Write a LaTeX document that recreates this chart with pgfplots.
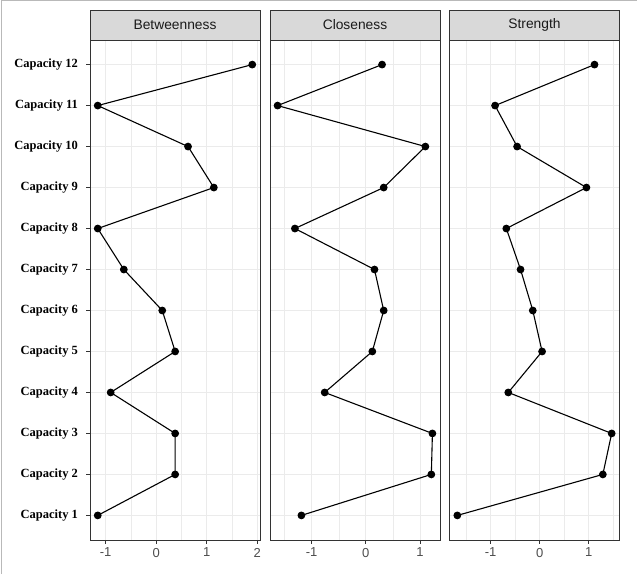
\documentclass[border=0pt]{standalone}
\usepackage{pgfplots}
\pgfplotsset{compat=1.18}
\usepackage{fontspec}
\setmainfont{Liberation Sans}
\newfontfamily\capfont{Liberation Serif}
\definecolor{g10}{HTML}{1A1A1A}
\definecolor{g20}{HTML}{333333}
\definecolor{g30}{HTML}{4D4D4D}
\definecolor{g85}{HTML}{D9D9D9}
\definecolor{g92}{HTML}{EBEBEB}
\pgfplotsset{
  facet/.style={
    scale only axis, width=170pt, height=500pt, anchor=south west,
    ymin=0.4, ymax=12.6, ytick={1,...,12},
    xmajorgrids, ymajorgrids, xminorgrids,
    major grid style={color=g92, line width=0.9pt},
    minor grid style={color=g92, line width=0.5pt},
    axis line style={g20, line width=0.7pt},
    tick style={g20, line width=0.7pt},
    tick align=outside, major tick length=3.5pt, minor tick length=0pt,
    xtick pos=bottom, ytick pos=left,
    xticklabel style={font=\fontsize{13}{15}\selectfont, text=g30, yshift=-1pt},
    yticklabel style={font=\capfont\bfseries\fontsize{12.5}{14}\selectfont, text=black, xshift=-5pt},
  },
  pts/.style={black, solid, line width=1.1pt, mark=*, mark size=3.3pt, mark options={solid, fill=black, draw=black}},
}
\tikzset{strip/.style={fill=g85, draw=g20, line width=0.7pt}}
\begin{document}
\begin{tikzpicture}
\useasboundingbox (0,0) rectangle (637pt,574pt);
\draw[gray!55, line width=1.2pt] (1.5pt,0) -- (1.5pt,573.4pt) -- (637pt,573.4pt);
% Betweenness
\begin{axis}[facet, name=p1, at={(90pt,34pt)},
  xmin=-1.309, xmax=2.053, xtick={-1,0,1,2}, xticklabels={-1,0,1,2},
  minor xtick={-0.5,0.5,1.5},
  yticklabels={Capacity 1,Capacity 2,Capacity 3,Capacity 4,Capacity 5,Capacity 6,Capacity 7,Capacity 8,Capacity 9,Capacity 10,Capacity 11,Capacity 12}]
\addplot[pts] coordinates {(-1.156,1) (0.375,2) (0.375,3) (-0.90,4) (0.375,5) (0.12,6) (-0.64,7) (-1.156,8) (1.14,9) (0.63,10) (-1.156,11) (1.90,12)};
\end{axis}
% Closeness
\begin{axis}[facet, name=p2, at={(270pt,34pt)},
  xmin=-1.77, xmax=1.37, xtick={-1,0,1}, xticklabels={-1,0,1},
  minor xtick={-1.5,-0.5,0.5},
  yticklabels={}, ytick style={draw=none}]
\addplot[pts] coordinates {(-1.19,1) (1.21,2) (1.23,3) (-0.76,4) (0.12,5) (0.33,6) (0.16,7) (-1.31,8) (0.33,9) (1.10,10) (-1.63,11) (0.30,12)};
\end{axis}
% Strength
\begin{axis}[facet, name=p3, at={(449.5pt,34pt)},
  xmin=-1.84, xmax=1.63, xtick={-1,0,1}, xticklabels={-1,0,1},
  minor xtick={-1.5,-0.5,0.5,1.5},
  yticklabels={}, ytick style={draw=none}]
\addplot[pts] coordinates {(-1.68,1) (1.29,2) (1.47,3) (-0.64,4) (0.05,5) (-0.14,6) (-0.39,7) (-0.68,8) (0.955,9) (-0.46,10) (-0.91,11) (1.12,12)};
\end{axis}
\foreach \p/\t in {p1/Betweenness, p2/Closeness, p3/Strength}{
  \draw[strip] (\p.north west) rectangle ([yshift=30pt]\p.north east);
  \node[text=g10, font=\fontsize{13.8}{16}\selectfont] at ([yshift=15pt]\p.north) {\t};
}
\end{tikzpicture}
\end{document}
